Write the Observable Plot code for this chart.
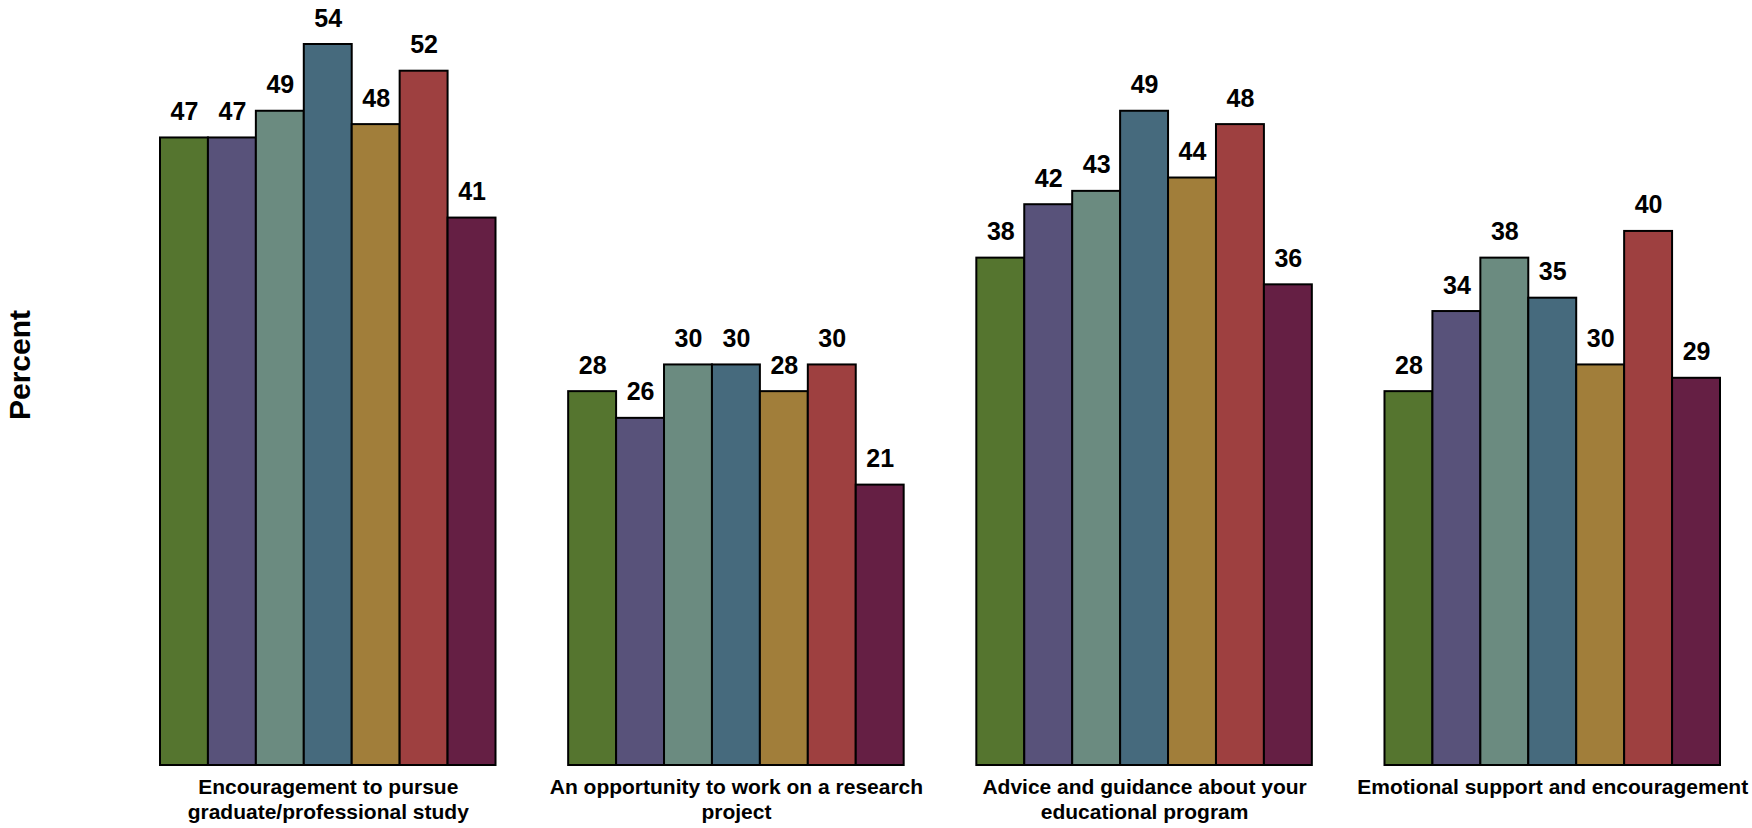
<!DOCTYPE html>
<html>
<head>
<meta charset="utf-8">
<script src="https://cdn.jsdelivr.net/npm/d3@7"></script>
<script src="https://cdn.jsdelivr.net/npm/@observablehq/plot@0.6"></script>
<style>
  html, body { margin: 0; padding: 0; background: #fff; }
  #chart svg { display: block; }
</style>
</head>
<body>
<div id="chart"></div>
<script>
const categories = [
  "Encouragement to pursue graduate/professional study",
  "An opportunity to work on a research project",
  "Advice and guidance about your educational program",
  "Emotional support and encouragement"
];
const categoryLabels = [
  "Encouragement to pursue\ngraduate/professional study",
  "An opportunity to work on a research\nproject",
  "Advice and guidance about your\neducational program",
  "Emotional support and encouragement"
];
const series = ["Series 1", "Series 2", "Series 3", "Series 4", "Series 5", "Series 6", "Series 7"];
const colors = ["#55752f", "#58527a", "#6b8b80", "#466a7d", "#a17e3a", "#9e4040", "#651f44"];

const encouragementValues = [47, 47, 49, 54, 48, 52, 41];
const researchValues      = [28, 26, 30, 30, 28, 30, 21];
const adviceValues        = [38, 42, 43, 49, 44, 48, 36];
const emotionalValues     = [28, 34, 38, 35, 30, 40, 29];
const yLabel = "Percent";

const valueSets = [encouragementValues, researchValues, adviceValues, emotionalValues];
const data = [];
categories.forEach((c, i) => {
  series.forEach((s, j) => data.push({category: c, series: s, value: valueSets[i][j]}));
});
const wrapped = new Map(categories.map((c, i) => [c, categoryLabels[i]]));

const chart = Plot.plot({
  width: 1752,
  height: 828,
  marginLeft: 160,
  marginRight: 32,
  marginTop: 44,
  marginBottom: 63,
  style: {fontFamily: "'Liberation Sans', Arial, Helvetica, sans-serif", background: "#fff"},
  fx: {domain: categories, paddingInner: 0.178, paddingOuter: 0, round: false, label: null},
  x: {domain: series, padding: 0, round: false, axis: null},
  y: {domain: [0, 54], axis: null},
  color: {domain: series, range: colors},
  marks: [
    Plot.barY(data, {
      fx: "category", x: "series", y: "value", fill: "series",
      stroke: "#000", strokeWidth: 2, inset: 0
    }),
    Plot.text(data, {
      fx: "category", x: "series", y: "value", text: d => String(d.value),
      lineAnchor: "bottom", dy: -18, fontSize: 25, fontWeight: "bold", fill: "#000"
    }),
    Plot.axisFx({
      anchor: "bottom", tickSize: 0, tickPadding: 10, label: null,
      tickFormat: d => wrapped.get(d), fontSize: 21, fontWeight: "bold",
      lineHeight: 1.22, fill: "#000"
    }),
    Plot.text([categories[0]], {
      fx: d => d, text: () => yLabel, frameAnchor: "left", rotate: -90,
      dx: -140, dy: -40, fontSize: 30, fontWeight: "bold", fill: "#000",
      textAnchor: "middle", lineAnchor: "middle"
    })
  ]
});
document.getElementById("chart").appendChild(chart);
</script>
</body>
</html>
